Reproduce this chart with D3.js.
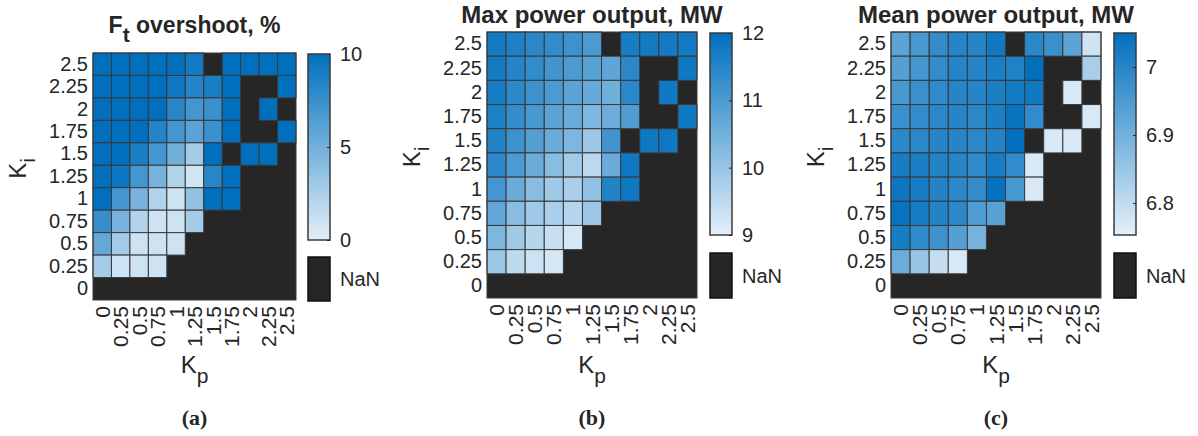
<!DOCTYPE html>
<html>
<head>
<meta charset="utf-8">
<script src="https://cdn.jsdelivr.net/npm/d3@7"></script>
<style>
  body { margin: 0; background: #fff; }
  svg { display: block; }
  text { font-family: "Liberation Sans", Arial, sans-serif; fill: #262626; }
</style>
</head>
<body>
<div class="chart"></div>
<script>
var W = 1198, H = 436;

// tick labels (same grid for both gains)
var kpTicks = ["0", "0.25", "0.5", "0.75", "1", "1.25", "1.5", "1.75", "2", "2.25", "2.5"];
var kiTicks = ["0", "0.25", "0.5", "0.75", "1", "1.25", "1.5", "1.75", "2", "2.25", "2.5"];

var N = null; // NaN cell

// rows listed from Ki = 2.5 (top) down to Ki = 0 (bottom), columns Kp = 0 .. 2.5
var overshoot = [
  [10, 10, 10, 10, 10, 9.2, N, 10, 10, 10, 10],
  [10, 10, 10, 10, 9.4, 8.4, 8.9, 10, N, N, 10],
  [10, 10, 10, 10, 8.2, 7, 7.4, 10, N, 10, N],
  [10, 10, 10, 8.4, 7, 6, 7.4, 10, N, N, 10],
  [10, 10, 8.9, 7, 5, 2.8, 10, N, 10, 10, N],
  [10, 9.5, 7, 4.8, 2.2, 0.8, 8.3, 10, N, N, N],
  [10, 7, 4.7, 2.2, 1, 3.6, 10, 10, N, N, N],
  [7.6, 4.7, 2.2, 1, 1, 2.8, N, N, N, N, N],
  [5.6, 2.8, 1, 1, 1, N, N, N, N, N, N],
  [2.8, 1, 1, 1, N, N, N, N, N, N, N],
  [N, N, N, N, N, N, N, N, N, N, N]
];

var maxPower = [
  [11.75, 11.6, 11.45, 11.35, 11.2, 11.0, N, 11.7, 11.75, 11.75, 11.75],
  [11.75, 11.5, 11.35, 11.15, 11.0, 10.85, 10.75, 11.45, N, N, 11.8],
  [11.7, 11.4, 11.2, 11.0, 10.8, 10.65, 10.5, 11.45, N, 11.8, N],
  [11.6, 11.3, 11.05, 10.8, 10.6, 10.35, 10.55, 10.95, N, N, 11.8],
  [11.55, 11.2, 10.9, 10.6, 10.35, 9.95, 11.15, N, 11.8, 11.8, N],
  [11.4, 11.0, 10.6, 10.2, 9.85, 9.55, 10.6, 11.8, N, N, N],
  [11.1, 10.6, 10.2, 9.9, 9.75, 10.1, 11.55, 11.8, N, N, N],
  [10.7, 10.2, 9.9, 9.75, 9.6, 9.95, N, N, N, N, N],
  [10.35, 9.9, 9.6, 9.4, 9.2, N, N, N, N, N, N],
  [9.95, 9.5, 9.3, 9.2, N, N, N, N, N, N, N],
  [N, N, N, N, N, N, N, N, N, N, N]
];

var meanPower = [
  [6.93, 6.955, 6.985, 7.0, 7.0, 7.03, N, 6.995, 6.975, 6.93, 6.78],
  [6.94, 6.96, 6.985, 7.0, 7.0, 7.015, 7.01, 7.05, N, N, 6.83],
  [6.955, 6.975, 6.99, 7.0, 7.0, 7.015, 7.025, 7.03, N, 6.77, N],
  [6.975, 6.985, 6.995, 7.0, 6.995, 7.015, 7.04, 6.985, N, N, 6.77],
  [6.995, 6.995, 7.0, 7.0, 6.995, 7.005, 7.05, N, 6.77, 6.77, N],
  [7.02, 7.015, 7.005, 7.0, 6.99, 7.02, 6.985, 6.77, N, N, N],
  [7.035, 7.02, 7.005, 6.995, 6.985, 7.045, 6.955, 6.77, N, N, N],
  [7.04, 7.02, 7.005, 6.995, 6.945, 6.935, N, N, N, N, N],
  [7.02, 6.99, 6.97, 6.94, 6.895, N, N, N, N, N, N],
  [6.91, 6.85, 6.795, 6.77, N, N, N, N, N, N, N],
  [N, N, N, N, N, N, N, N, N, N, N]
];

var lightBlue = "#e4eff9", darkBlue = "#0070be", nanColor = "#262626";

var panels = [
  { title: "F", titleSub: "t", titleRest: " overshoot, %", letter: "(a)", data: overshoot,
    domain: [0, 10], ticks: [0, 5, 10], titleY: 33, titleSize: 23,
    plot: [93, 296, 53, 300], cbar: [308, 330, 54, 240], nan: [257, 301] },
  { title: "Max power output, MW", letter: "(b)", data: maxPower,
    domain: [9, 12], ticks: [9, 10, 11, 12], titleY: 23, titleSize: 24,
    plot: [487, 697, 32, 298], cbar: [710, 732, 33, 235], nan: [253, 298] },
  { title: "Mean power output, MW", letter: "(c)", data: meanPower,
    domain: [6.753, 7.05], ticks: [6.8, 6.9, 7], titleY: 23, titleSize: 24,
    plot: [891, 1101, 32, 298], cbar: [1114, 1136, 33, 235], nan: [253, 298] }
];

var svg = d3.select(".chart")
    .append("svg")
    .attr("width", W)
    .attr("height", H);

var defs = svg.append("defs");
var grad = defs.append("linearGradient")
    .attr("id", "cmap")
    .attr("x1", 0).attr("y1", 1).attr("x2", 0).attr("y2", 0);
grad.append("stop").attr("offset", "0%").attr("stop-color", lightBlue);
grad.append("stop").attr("offset", "100%").attr("stop-color", darkBlue);

panels.forEach(function (p) {
    var x0 = p.plot[0], x1 = p.plot[1], y0 = p.plot[2], y1 = p.plot[3];
    var cx = (x0 + x1) / 2;

    var x = d3.scaleBand().domain(kpTicks).range([x0, x1]);
    var y = d3.scaleBand().domain(kiTicks.slice().reverse()).range([y0, y1]);
    var color = d3.scaleLinear().domain(p.domain).range([lightBlue, darkBlue]).clamp(true);

    var g = svg.append("g");

    // background for the NaN region
    g.append("rect")
        .attr("x", x0).attr("y", y0)
        .attr("width", x1 - x0).attr("height", y1 - y0)
        .attr("fill", nanColor);

    var cells = [];
    p.data.forEach(function (row, i) {
        row.forEach(function (v, j) {
            cells.push({ kp: kpTicks[j], ki: kiTicks[kiTicks.length - 1 - i], v: v });
        });
    });

    g.selectAll("rect.cell")
        .data(cells.filter(function (d) { return d.v !== null; }))
        .enter().append("rect")
        .attr("class", "cell")
        .attr("x", function (d) { return x(d.kp); })
        .attr("y", function (d) { return y(d.ki); })
        .attr("width", x.bandwidth())
        .attr("height", y.bandwidth())
        .attr("fill", function (d) { return color(d.v); })
        .attr("stroke", "#3a3a3a")
        .attr("stroke-width", 1);

    // box
    g.append("rect")
        .attr("x", x0).attr("y", y0)
        .attr("width", x1 - x0).attr("height", y1 - y0)
        .attr("fill", "none")
        .attr("stroke", "#3a3a3a");

    // y axis
    var ya = g.append("g")
        .attr("transform", "translate(" + (x0 - 4) + ",0)")
        .call(d3.axisLeft(y).tickSize(0).tickPadding(1));
    ya.select(".domain").remove();
    ya.selectAll("text")
        .style("font-family", "Liberation Sans, Arial, sans-serif")
        .style("font-size", "20px")
        .attr("fill", "#333");

    // x axis, labels turned up
    var xa = g.append("g")
        .attr("transform", "translate(0," + y1 + ")")
        .call(d3.axisBottom(x).tickSize(0));
    xa.select(".domain").remove();
    xa.selectAll("text")
        .attr("transform", "rotate(-90)")
        .attr("x", -6).attr("y", 0).attr("dy", "0.36em")
        .style("text-anchor", "end")
        .style("font-family", "Liberation Sans, Arial, sans-serif")
        .style("font-size", "21px")
        .attr("fill", "#333");

    // axis labels
    var xl = g.append("text")
        .attr("x", cx)
        .attr("y", 373)
        .attr("text-anchor", "middle")
        .style("font-size", "24px")
        .attr("fill", "#333");
    xl.append("tspan").text("K");
    xl.append("tspan").attr("dy", 10).style("font-size", "21px").text("p");

    var yl = g.append("text")
        .attr("transform", "translate(" + (x0 - 67) + "," + ((y0 + y1) / 2 - 8) + ") rotate(-90)")
        .attr("text-anchor", "middle")
        .style("font-size", "24px")
        .attr("fill", "#333");
    yl.append("tspan").text("K");
    yl.append("tspan").attr("dy", 9).style("font-size", "21px").text("i");

    // title
    var t = g.append("text")
        .attr("x", cx)
        .attr("y", p.titleY)
        .attr("text-anchor", "middle")
        .style("font-size", p.titleSize + "px")
        .style("font-weight", "bold");
    if (p.titleSub) {
        t.append("tspan").text(p.title);
        t.append("tspan").attr("dy", 9).style("font-size", "21px").text(p.titleSub);
        t.append("tspan").attr("dy", -9).text(p.titleRest);
    } else {
        t.text(p.title);
    }

    // panel letter
    g.append("text")
        .attr("x", cx)
        .attr("y", 425)
        .attr("text-anchor", "middle")
        .style("font-family", "Liberation Serif, Times New Roman, serif")
        .style("font-size", "22px")
        .style("font-weight", "bold")
        .attr("fill", "#000")
        .text(p.letter);

    // colorbar
    var bx0 = p.cbar[0], bx1 = p.cbar[1], by0 = p.cbar[2], by1 = p.cbar[3];
    var cs = d3.scaleLinear().domain(p.domain).range([by1, by0]);
    g.append("rect")
        .attr("x", bx0).attr("y", by0)
        .attr("width", bx1 - bx0).attr("height", by1 - by0)
        .attr("fill", "url(#cmap)")
        .attr("stroke", "#3a3a3a")
        .attr("stroke-width", 1.5);

    var ca = g.append("g")
        .attr("transform", "translate(" + bx1 + ",0)")
        .call(d3.axisLeft(cs).tickValues(p.ticks).tickSize(3).tickFormat(d3.format("")));
    ca.select(".domain").remove();
    ca.selectAll("line").attr("stroke", "#262626");
    ca.selectAll("text")
        .attr("x", 10)
        .style("text-anchor", "start")
        .style("font-family", "Liberation Sans, Arial, sans-serif")
        .style("font-size", "20px")
        .attr("fill", "#333");

    g.append("rect")
        .attr("x", bx0).attr("y", p.nan[0])
        .attr("width", bx1 - bx0).attr("height", p.nan[1] - p.nan[0])
        .attr("fill", nanColor)
        .attr("stroke", "#111")
        .attr("stroke-width", 1.5);
    g.append("text")
        .attr("x", bx1 + 10)
        .attr("y", (p.nan[0] + p.nan[1]) / 2)
        .attr("dy", "0.36em")
        .style("font-size", "20px")
        .attr("fill", "#333")
        .text("NaN");
});
</script>
</body>
</html>
